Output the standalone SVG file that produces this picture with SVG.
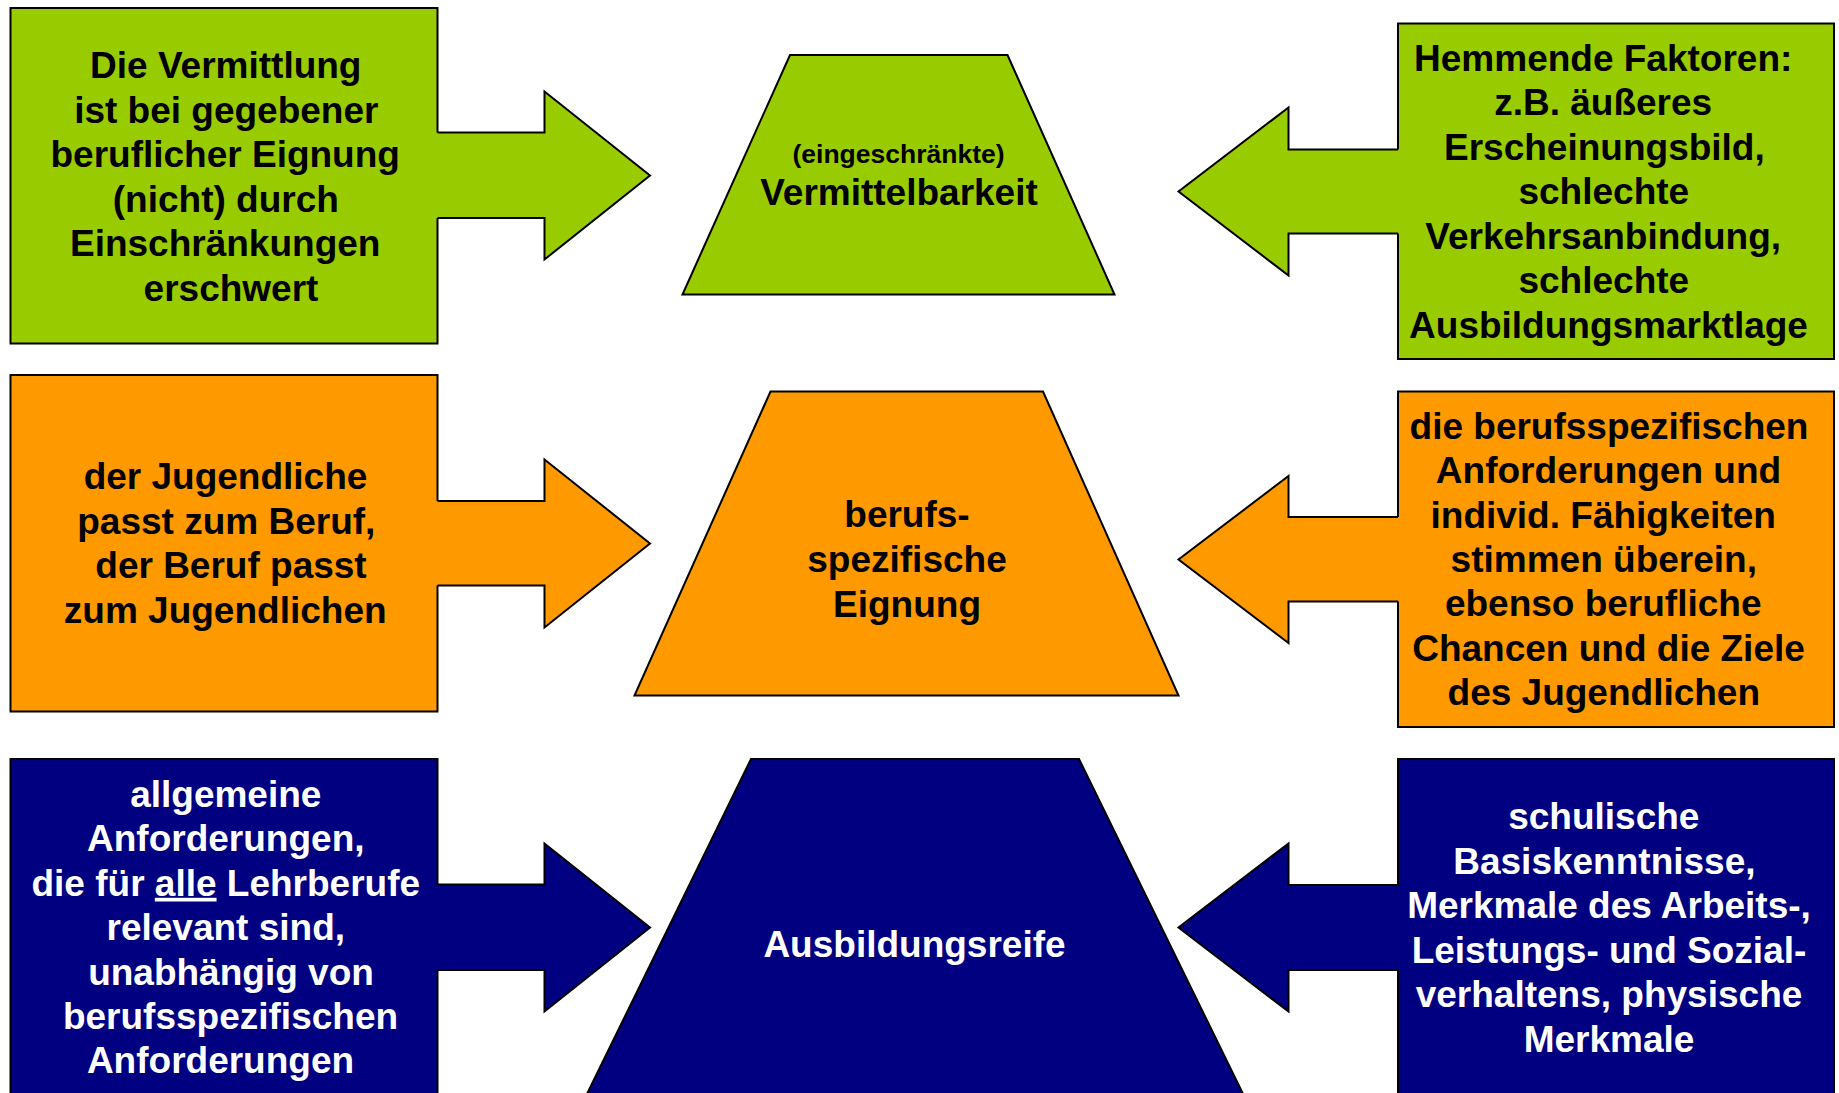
<svg xmlns="http://www.w3.org/2000/svg" width="1839" height="1093" viewBox="0 0 1839 1093">
<style>
.g{fill:#99CC00}
.o{fill:#FF9900}
.n{fill:#000080}
.s{stroke:#000;stroke-width:2;stroke-linejoin:miter}
.edge{fill:none;stroke:#000;stroke-width:2;stroke-linejoin:miter}
.t{font-family:"Liberation Sans",Arial,sans-serif;font-weight:bold;font-size:37px;text-anchor:middle}
.dk{fill:#000}
.lt{fill:#fff}
</style>
<rect width="1839" height="1093" fill="#fff"/>
<g id="nodes">
<g id="box-vermittlung">
<rect class="g s" x="10.5" y="8" width="427" height="335.5"/>
<text class="t dk"><tspan x="225.8" y="78">Die Vermittlung</tspan><tspan x="226.3" y="122.5">ist bei gegebener</tspan><tspan x="225.2" y="167">beruflicher Eignung</tspan><tspan x="225.8" y="211.5">(nicht) durch</tspan><tspan x="225.2" y="256">Einschränkungen</tspan><tspan x="231" y="300.5">erschwert</tspan></text>
</g>
<g id="trap-vermittelbarkeit">
<polygon class="g s" points="790,55 1007.5,55 1114.5,294.5 682.5,294.5"/>
<text class="t dk"><tspan x="898.5" y="162.5" style="font-size:26.5px">(eingeschränkte)</tspan><tspan x="899" y="204.5">Vermittelbarkeit</tspan></text>
</g>
<g id="box-hemmende">
<rect class="g s" x="1398" y="23.5" width="436" height="335.5"/>
<text class="t dk"><tspan x="1603.2" y="70.5">Hemmende Faktoren:</tspan><tspan x="1603.2" y="115">z.B. äußeres</tspan><tspan x="1604.4" y="159.5">Erscheinungsbild,</tspan><tspan x="1603.8" y="204">schlechte</tspan><tspan x="1603.2" y="248.5">Verkehrsanbindung,</tspan><tspan x="1603.8" y="293">schlechte</tspan><tspan x="1608.5" y="337.5">Ausbildungsmarktlage</tspan></text>
</g>
<g id="box-jugendliche">
<rect class="o s" x="10.5" y="375" width="427" height="336.5"/>
<text class="t dk"><tspan x="225.5" y="489">der Jugendliche</tspan><tspan x="226.3" y="533.5">passt zum Beruf,</tspan><tspan x="231" y="578">der Beruf passt</tspan><tspan x="225.2" y="622.5">zum Jugendlichen</tspan></text>
</g>
<g id="trap-eignung">
<polygon class="o s" points="770.5,391.5 1043,391.5 1178.5,695.5 634.5,695.5"/>
<text class="t dk"><tspan x="907" y="526.7">berufs-</tspan><tspan x="907" y="571.7">spezifische</tspan><tspan x="907" y="616.7">Eignung</tspan></text>
</g>
<g id="box-anforderungen-spezifisch">
<rect class="o s" x="1398" y="391.5" width="436" height="335.5"/>
<text class="t dk"><tspan x="1609" y="439">die berufsspezifischen</tspan><tspan x="1608.5" y="483.3">Anforderungen und</tspan><tspan x="1603.2" y="527.6">individ. Fähigkeiten</tspan><tspan x="1603.8" y="571.9">stimmen überein,</tspan><tspan x="1603.2" y="616.2">ebenso berufliche</tspan><tspan x="1608.5" y="660.5">Chancen und die Ziele</tspan><tspan x="1603.8" y="704.8">des Jugendlichen</tspan></text>
</g>
<g id="box-allgemein">
<rect class="n s" x="10.5" y="759" width="427" height="345"/>
<text class="t lt"><tspan x="225.8" y="807">allgemeine</tspan><tspan x="225.8" y="851.4">Anforderungen,</tspan><tspan x="225.8" y="895.8">die für <tspan text-decoration="underline">alle</tspan> Lehrberufe</tspan><tspan x="225.8" y="940.2">relevant sind,</tspan><tspan x="231" y="984.6">unabhängig von</tspan><tspan x="230.5" y="1029">berufsspezifischen</tspan><tspan x="220.5" y="1073.4">Anforderungen</tspan></text>
</g>
<g id="trap-ausbildungsreife">
<polygon class="n s" points="751,759 1079,759 1246,1100 584,1100"/>
<text class="t lt" x="914.5" y="957">Ausbildungsreife</text>
</g>
<g id="box-schulisch">
<rect class="n s" x="1398" y="759" width="436" height="345"/>
<text class="t lt"><tspan x="1603.8" y="829">schulische</tspan><tspan x="1604.4" y="873.6">Basiskenntnisse,</tspan><tspan x="1609" y="918.2">Merkmale des Arbeits-,</tspan><tspan x="1609" y="962.8">Leistungs- und Sozial-</tspan><tspan x="1609" y="1007.4">verhaltens, physische</tspan><tspan x="1609" y="1052">Merkmale</tspan></text>
</g>
</g>
<g id="connectors">
<path class="g" d="M435.5,132.5 H544.5 V91.5 L650,175.5 L544.5,259.5 V218 H435.5 Z"/>
<path class="edge" d="M437.5,132.5 H544.5 V91.5 L650,175.5 L544.5,259.5 V218 H437.5"/>
<path class="o" d="M435.5,501 H544.5 V459.5 L650,543.5 L544.5,627.5 V585.5 H435.5 Z"/>
<path class="edge" d="M437.5,501 H544.5 V459.5 L650,543.5 L544.5,627.5 V585.5 H437.5"/>
<path class="n" d="M435.5,884.5 H544.5 V843.5 L650,927.5 L544.5,1011.5 V970 H435.5 Z"/>
<path class="edge" d="M437.5,884.5 H544.5 V843.5 L650,927.5 L544.5,1011.5 V970 H437.5"/>
<path class="g" d="M1400,149.5 H1288.5 V107.5 L1178.5,191.5 L1288.5,275.5 V233.5 H1400 Z"/>
<path class="edge" d="M1398,149.5 H1288.5 V107.5 L1178.5,191.5 L1288.5,275.5 V233.5 H1398"/>
<path class="o" d="M1400,517 H1288.5 V476 L1178.5,559.5 L1288.5,643 V601.5 H1400 Z"/>
<path class="edge" d="M1398,517 H1288.5 V476 L1178.5,559.5 L1288.5,643 V601.5 H1398"/>
<path class="n" d="M1400,885 H1288.5 V843.5 L1178.5,927.5 L1288.5,1011.5 V970 H1400 Z"/>
<path class="edge" d="M1398,885 H1288.5 V843.5 L1178.5,927.5 L1288.5,1011.5 V970 H1398"/>
</g>
</svg>
